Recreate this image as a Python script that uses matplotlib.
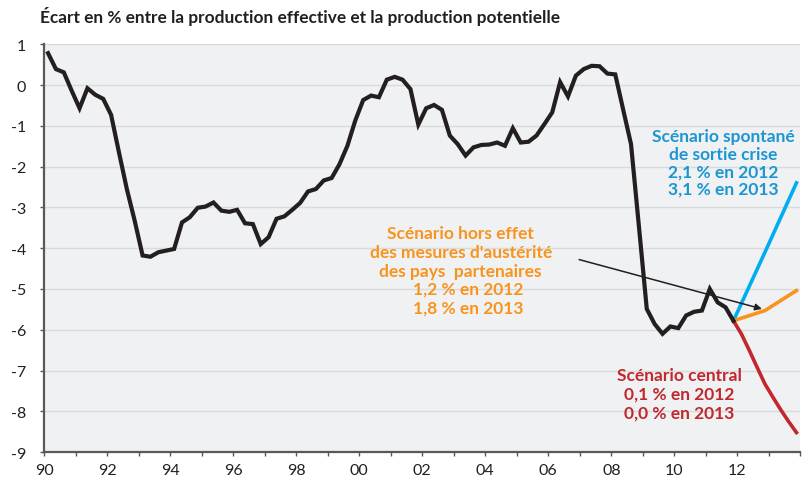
import matplotlib.pyplot as plt

plt.rcParams["font.family"] = ["Lato", "DejaVu Sans"]

# écart de production, trimestriel 1990T1 - 2011T4
YEARS_START = 1990
OUTPUT_GAP = [
    0.78, 0.39, 0.31, -0.14,
    -0.57, -0.08, -0.24, -0.34,
    -0.73, -1.65, -2.55, -3.33,
    -4.18, -4.21, -4.10, -4.06,
    -4.02, -3.37, -3.24, -3.01,
    -2.98, -2.88, -3.08, -3.11,
    -3.06, -3.39, -3.41, -3.90,
    -3.73, -3.28, -3.22, -3.06,
    -2.89, -2.61, -2.55, -2.34,
    -2.28, -1.94, -1.49, -0.87,
    -0.37, -0.26, -0.30, 0.13,
    0.20, 0.13, -0.10, -0.97,
    -0.57, -0.49, -0.61, -1.24,
    -1.45, -1.73, -1.53, -1.47,
    -1.46, -1.41, -1.49, -1.06,
    -1.41, -1.39, -1.24, -0.96,
    -0.67, 0.07, -0.28, 0.23,
    0.39, 0.47, 0.46, 0.28,
    0.26, -0.60, -1.45, -3.46,
    -5.49, -5.86, -6.10, -5.92,
    -5.96, -5.65, -5.56, -5.53,
    -5.00, -5.33, -5.45, -5.78,
]

# scénarios 2012-2013 (départ au dernier point observé)
SCEN_X = [2011.875, 2012.875, 2013.875]
SCEN_SPONTANE = [-5.78, -4.10, -2.40]
SCEN_HORS_AUSTERITE = [-5.78, -5.53, -5.04]
CENTRAL_X = [2011.875, 2012.125, 2012.375, 2012.625, 2012.875,
             2013.125, 2013.375, 2013.625, 2013.875]
SCEN_CENTRAL = [-5.78, -6.10, -6.50, -6.92, -7.33, -7.65, -7.96, -8.25, -8.52]

XTICK_LABEL_YEARS = list(range(1990, 2013, 2))
YTICKS = list(range(-9, 2))

BLACK = "#231f20"
BLUE = "#00aeef"
BLUE_TXT = "#1b96d3"
ORANGE = "#f7941d"
RED = "#c1272d"


def main():
    fig = plt.figure(figsize=(8.02, 4.81), dpi=100)
    ax = fig.add_axes([0.055, 0.058, 0.943, 0.848])
    ax.set_facecolor("#f0f1f3")

    xs = [YEARS_START + (i + 0.5) / 4 for i in range(len(OUTPUT_GAP))]
    ax.plot(xs, OUTPUT_GAP, color=BLACK, lw=3.0, solid_joinstyle="miter", zorder=4)

    ax.plot(SCEN_X, SCEN_SPONTANE, color=BLUE, lw=2.6, zorder=3)
    ax.plot(SCEN_X, SCEN_HORS_AUSTERITE, color=ORANGE, lw=2.6, zorder=3)
    ax.plot(CENTRAL_X, SCEN_CENTRAL, color=RED, lw=2.6, zorder=3)

    ax.annotate("", xy=(2012.78, -5.49), xytext=(2006.98, -4.28),
                arrowprops=dict(arrowstyle="-|>", color=BLACK, lw=1.1,
                                mutation_scale=10, shrinkA=0, shrinkB=0),
                zorder=5)

    txt = dict(fontsize=12.5, fontweight="bold", ha="center", va="center",
               multialignment="center", linespacing=1.22)
    ax.text(2003.22, -4.1,
            "Scénario hors effet\ndes mesures d'austérité\ndes pays  partenaires",
            color=ORANGE, **txt)
    ax.text(2003.47, -5.22, "1,2 % en 2012\n1,8 % en 2013", color=ORANGE, **txt)
    ax.text(2011.56, -1.9,
            "Scénario spontané\nde sortie crise\n2,1 % en 2012\n3,1 % en 2013",
            color=BLUE_TXT, fontsize=12.5, fontweight="bold", ha="center",
            va="center", multialignment="center", linespacing=1.12)
    ax.text(2010.16, -7.57,
            "Scénario central\n0,1 % en 2012\n0,0 % en 2013",
            color=RED, **txt)

    ax.set_xlim(1990, 2014)
    ax.set_ylim(-9, 1)
    ax.set_xticks(range(1990, 2015))
    ax.set_xticklabels([f"{y % 100:02d}" if y in XTICK_LABEL_YEARS else ""
                        for y in range(1990, 2015)])
    ax.set_yticks(YTICKS)
    ax.set_yticklabels([str(v) for v in YTICKS])
    ax.grid(axis="y", color="#d9dadc", lw=1.0)
    ax.set_axisbelow(True)

    for side in ["top", "right"]:
        ax.spines[side].set_visible(False)
    for side in ["left", "bottom"]:
        ax.spines[side].set_color("#58595b")
        ax.spines[side].set_linewidth(1.6)
    ax.tick_params(axis="both", direction="out", length=3, width=1, color="#58595b",
                   labelsize=11.5, labelcolor="#231f20")
    ax.tick_params(axis="y", pad=10)
    ax.tick_params(axis="x", pad=5)

    fig.text(40 / 802, 1 - 17 / 481,
             "Écart en % entre la production effective et la production potentielle",
             fontsize=12.4, fontweight="bold", color=BLACK, va="center", ha="left")

    fig.savefig("out.png", dpi=100)


if __name__ == "__main__":
    main()
